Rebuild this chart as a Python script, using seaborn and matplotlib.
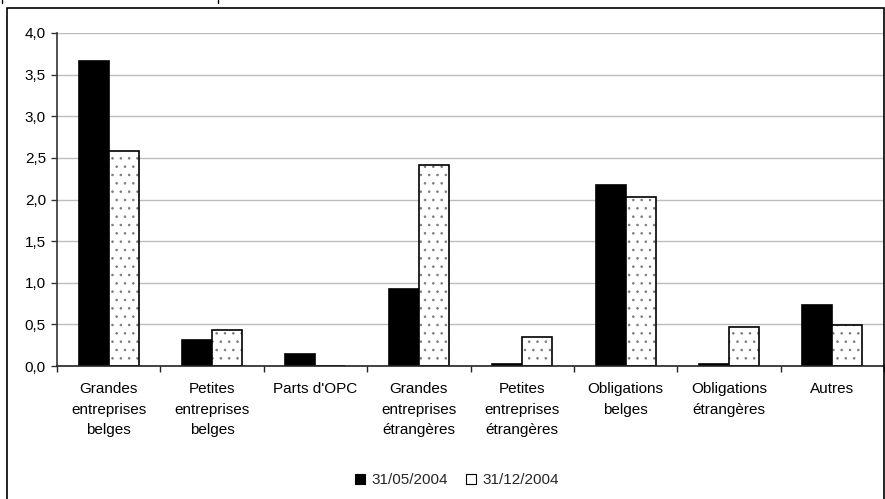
import matplotlib
matplotlib.use("Agg")
import matplotlib.pyplot as plt
import seaborn as sns
import pandas as pd
from matplotlib.colors import to_rgba
from matplotlib.patches import Patch, Rectangle
from matplotlib.lines import Line2D
from matplotlib.ticker import FuncFormatter, FixedLocator

# Portfolio breakdown by asset class, two reporting dates
categories = [
    "Grandes\nentreprises\nbelges",
    "Petites\nentreprises\nbelges",
    "Parts d'OPC",
    "Grandes\nentreprises\nétrangères",
    "Petites\nentreprises\nétrangères",
    "Obligations\nbelges",
    "Obligations\nétrangères",
    "Autres",
]
series_names = ["31/05/2004", "31/12/2004"]
values_may = [3.66, 0.31, 0.14, 0.92, 0.02, 2.18, 0.02, 0.73]
values_dec = [2.58, 0.43, 0.0, 2.41, 0.35, 2.03, 0.47, 0.49]
y_ticks = [0.0, 0.5, 1.0, 1.5, 2.0, 2.5, 3.0, 3.5, 4.0]

sns.set_theme(style="white")
plt.rcParams["font.family"] = ["Liberation Sans", "DejaVu Sans"]
plt.rcParams["hatch.linewidth"] = 0.6

df = pd.DataFrame({
    "categorie": categories * 2,
    "periode": [series_names[0]] * len(categories) + [series_names[1]] * len(categories),
    "valeur": values_may + values_dec,
})

W, H = 885, 499
fig = plt.figure(figsize=(W / 100, H / 100), dpi=100)
fig.patch.set_facecolor("white")
left, right, top, bottom = 57, 884, 33, 366
ax = fig.add_axes([left / W, 1 - bottom / H, (right - left) / W, (bottom - top) / H])

sns.barplot(
    data=df, x="categorie", y="valeur", hue="periode",
    order=categories, hue_order=series_names,
    palette=["black", "white"], width=0.58, gap=0,
    edgecolor="black", linewidth=1.2, errorbar=None,
    legend=False, ax=ax,
)

# sparse grey dotted fill for the second date
dot_color = to_rgba("#7a7a7a")
for p in list(ax.patches):
    fc = p.get_facecolor()
    if fc[0] > 0.5:
        p.set_hatch("..")
        if hasattr(p, "set_hatchcolor"):
            p.set_hatchcolor(dot_color)
        else:
            p._hatch_color = dot_color

ax.set_xlim(-0.5, len(categories) - 0.5)
ax.set_ylim(0, 4.0)
ax.yaxis.set_major_locator(FixedLocator(y_ticks))
ax.yaxis.set_major_formatter(FuncFormatter(lambda v, _: f"{v:.1f}".replace(".", ",")))
ax.set_xlabel("")
ax.set_ylabel("")

ax.yaxis.grid(True, color="#bdbdbd", linewidth=1)
ax.set_axisbelow(True)

for side in ("top", "right"):
    ax.spines[side].set_visible(False)
ax.spines["left"].set_color("#333333")
ax.spines["left"].set_linewidth(1.2)
ax.spines["bottom"].set_color("#222222")
ax.spines["bottom"].set_linewidth(1.2)

ax.tick_params(axis="y", which="major", direction="out", length=4, width=1,
               color="#333333", labelsize=11, pad=4, labelcolor="black", left=True)
ax.set_xticks([i - 0.5 for i in range(len(categories) + 1)], minor=True)
ax.tick_params(axis="x", which="minor", direction="out", length=4, width=1,
               color="#222222", bottom=True)
ax.tick_params(axis="x", which="major", length=0, labelsize=11, pad=11.5,
               labelcolor="black")
for lbl in ax.get_xticklabels():
    lbl.set_linespacing(1.6)
    lbl.set_verticalalignment("top")

handles = [
    Patch(facecolor="black", edgecolor="black", linewidth=0.8),
    Patch(facecolor="white", edgecolor="black", linewidth=0.8),
]
fig.legend(handles, series_names, loc="center", bbox_to_anchor=(457 / W, 1 - 480 / H),
           ncol=2, frameon=False, fontsize=11, handlelength=0.65, handleheight=0.65,
           handletextpad=0.4, columnspacing=1.2)

# outer chart frame
fig.add_artist(Rectangle((7 / W, -0.02), (884 - 7) / W, 1 - 8 / H + 0.02,
                         transform=fig.transFigure, fill=False,
                         edgecolor="black", linewidth=1.2))
# small marks on the top edge
for xm in (1.5, 217.5):
    fig.add_artist(Line2D([xm / W, xm / W], [1, 1 - 3 / H],
                          transform=fig.transFigure, color="black", linewidth=1))

fig.savefig("out.png", dpi=100, facecolor="white")
